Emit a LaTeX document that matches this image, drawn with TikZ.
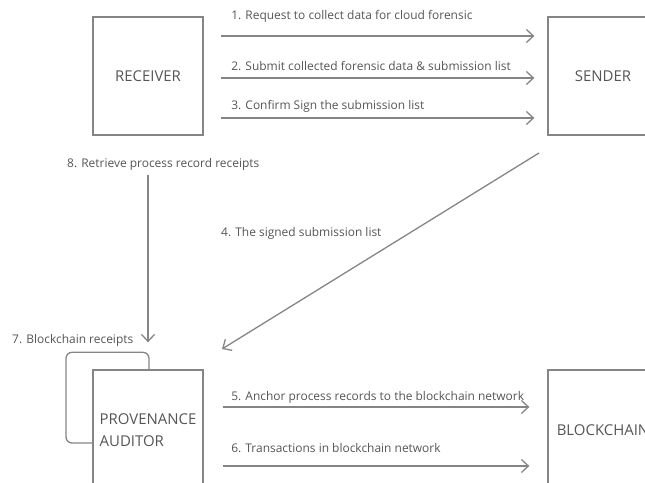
\documentclass[tikz,border=0pt]{standalone}
\usepackage{fontspec}
\setmainfont{Open Sans}
\usetikzlibrary{arrows.meta}
\definecolor{linegray}{HTML}{858585}
\definecolor{textgray}{HTML}{555555}
\begin{document}
\begin{tikzpicture}[x=1bp, y=1bp,
        party/.style={draw=linegray, line width=1.3bp, minimum width=110bp, text=textgray, font=\fontsize{15}{22}\selectfont, align=left},
        msg/.style={draw=linegray, line width=1.3bp, -{Straight Barb[length=7bp, width=13bp, line width=1.3bp]}},
        lbl/.style={text=textgray, inner sep=0pt, font=\fontsize{12}{14}\selectfont}]
    \useasboundingbox (0, 0) rectangle (645, 483);
    \node[party, minimum height=118bp] (rec) at (148, 407) {RECEIVER};
    \node[party, minimum height=118bp] (snd) at (603, 407) {SENDER};
    \node[party, minimum height=120bp] (prov) at (148, 53) {PROVENANCE\\AUDITOR};
    \node[party, minimum height=120bp] (bc) at (603, 53) {BLOCKCHAIN};
    % receiver -> sender
    \draw[msg] ([xshift=17bp, yshift=40bp]rec.east) -- ([xshift=-13bp, yshift=40bp]snd.west)
        node[lbl, pos=0, anchor=west, xshift=10bp, yshift=20bp] {1. Request to collect data for cloud forensic};
    \draw[msg] ([xshift=17bp, yshift=-2bp]rec.east) -- ([xshift=-13bp, yshift=-2bp]snd.west)
        node[lbl, pos=0, anchor=west, xshift=10bp, yshift=12bp] {2. Submit collected forensic data \& submission list};
    \draw[msg] ([xshift=17bp, yshift=-42bp]rec.east) -- ([xshift=-13bp, yshift=-42bp]snd.west)
        node[lbl, pos=0, anchor=west, xshift=10bp, yshift=12bp] {3. Confirm Sign the submission list};
    % sender -> auditor
    \coordinate (s4) at (539, 330);
    \coordinate (e4) at (222, 134);
    \draw[msg] (s4) -- (e4);
    \node[lbl, anchor=west] (l4) at (221, 250) {4. The signed submission list};
    % auditor -> blockchain
    \draw[msg] ([xshift=19bp, yshift=23bp]prov.east) -- ([xshift=-18bp, yshift=23bp]bc.west)
        node[lbl, pos=0, anchor=west, xshift=8bp, yshift=10bp] {5. Anchor process records to the blockchain network};
    \draw[msg] ([xshift=19bp, yshift=-36bp]prov.east) -- ([xshift=-18bp, yshift=-36bp]bc.west)
        node[lbl, pos=0, anchor=west, xshift=8bp, yshift=18bp] {6. Transactions in blockchain network};
    % receipts
    \node[lbl, anchor=west] (l8) at (67, 319) {8. Retrieve process record receipts};
    \node[lbl, anchor=west] (l7) at (12, 143) {7. Blockchain receipts};
    \coordinate (s8) at ([yshift=-5bp]l8.south -| prov.north);
    \draw[msg] (s8) -- ([yshift=27bp]prov.north);
    \draw[linegray, line width=1.3bp, rounded corners=6bp] ([xshift=1bp]prov.north) -- ++(0, 17) -| (66, 40) -- ([yshift=-13bp]prov.west);
\end{tikzpicture}
\end{document}
